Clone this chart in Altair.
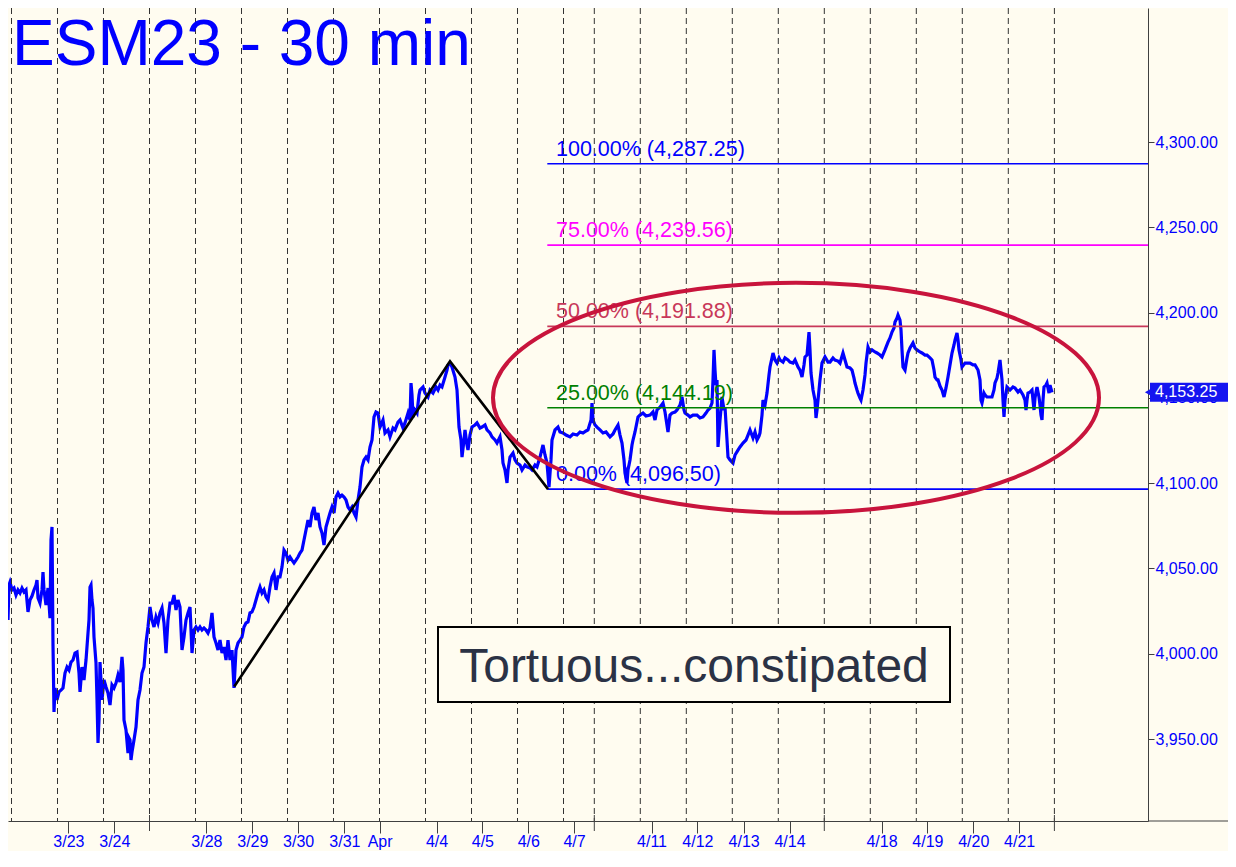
import altair as alt
import pandas as pd

# ---------------- data ----------------
# t = position along the time axis (bar-index units), p = ES price
T_A = [0, 1, 2, 4, 6, 8, 10, 12, 14, 16, 18, 20, 22, 24, 26, 28, 29, 30, 32, 34,
       35, 36, 38, 40, 42, 43, 44, 45, 46, 47, 49, 51, 53, 55, 57, 59, 61, 63, 65, 67,
       69, 71, 72, 74, 76, 78, 80, 81, 82, 83, 84, 85, 86, 88, 89, 90, 91, 92, 94, 96,
       98, 100, 102, 104, 106, 108, 110, 112, 114, 115, 116, 118, 120, 121, 122, 123, 124, 126, 128, 130,
       132, 134, 136, 138, 140, 142, 144, 146, 148, 150,
       152, 154, 156, 158, 160, 162, 164, 166, 168, 170, 172, 174, 176, 178, 180, 182, 184, 186, 188, 190,
       192, 194, 196, 198, 200, 202, 204, 206, 208, 210, 212, 214, 216, 218, 220, 222, 224, 226, 228, 230,
       232, 234, 236, 238, 240, 242, 244, 246, 248, 250, 252, 254, 256, 258, 260, 262, 264, 266, 268, 270,
       272, 274, 276, 278, 280, 282, 284, 286, 288, 290, 292, 294, 296, 298, 300, 302, 304, 306, 308, 310,
       312, 314, 316, 318, 320, 322, 324, 326, 328, 330, 332, 334, 336, 338, 340, 342, 344, 346, 348, 350,
       352, 354, 356, 358, 360, 362, 364, 366, 368, 370]
P_A = [4019.8, 4040.3, 4042.0, 4037.4, 4038.5, 4034.4, 4037.4, 4035.6, 4038.5, 4036.2, 4037.4, 4024.5, 4031.5, 4033.8, 4037.4, 4040.3, 4043.2, 4032.7, 4029.7, 4037.4,
       4047.9, 4037.4, 4028.6, 4038.5, 4020.9, 4066.7, 4074.3, 4005.1, 3965.8, 3979.9, 3972.9, 3977.6, 3978.7, 3979.9, 3988.7, 3992.2, 3990.4, 3995.1, 3996.3, 4000.4,
       4001.0, 3988.7, 3977.6, 3992.2, 3984.6, 3996.3, 4012.1, 4019.8, 4039.1, 4040.3, 4031.5, 4026.8, 4009.8, 3994.6, 3972.9, 3947.7, 3961.1, 3995.1, 3972.9, 3984.6,
       3980.5, 3977.0, 3969.9, 3981.7, 3979.9, 3982.8, 3987.5, 3983.4, 3998.1, 3990.4, 3961.1, 3955.3, 3941.8, 3950.6, 3949.4, 3937.7, 3942.4, 3949.4, 3957.0, 3972.9,
       3978.7, 3988.7, 3992.2, 4006.3, 4015.7, 4027.4, 4019.8, 4015.7, 4021.5, 4018.0,
       4023.9, 4026.8, 4018.0, 4000.4, 4019.8, 4029.7, 4029.7, 4034.4, 4025.6, 4031.5, 4027.4, 4002.2, 4009.8, 4019.8, 4023.9, 4027.4, 4000.4, 4013.9, 4015.7, 4013.9,
       4015.7, 4013.9, 4015.1, 4013.9, 4012.1, 4015.1, 4023.9, 4009.8, 4006.3, 4002.2, 4008.0, 4000.4, 4003.9, 3996.3, 4008.0, 3996.3, 4002.2, 3979.9, 4002.2, 4006.3,
       4008.0, 4009.8, 4015.7, 4018.0, 4018.6, 4023.9, 4024.5, 4027.4, 4031.5, 4035.6, 4039.1, 4035.6, 4037.4, 4033.2, 4031.5, 4039.1, 4045.0, 4047.3, 4037.4, 4045.0,
       4045.0, 4050.8, 4060.8, 4059.0, 4054.9, 4056.7, 4054.9, 4053.2, 4054.9, 4056.7, 4059.0, 4060.8, 4066.7, 4072.5, 4078.4, 4074.3, 4082.5, 4086.0, 4078.4, 4082.5,
       4074.3, 4070.8, 4063.7, 4074.3, 4078.4, 4082.5, 4086.0, 4082.5, 4091.9, 4094.2, 4091.9, 4093.0, 4091.9, 4090.1, 4086.0, 4084.3, 4086.0, 4082.5, 4080.1, 4090.1,
       4097.7, 4109.5, 4113.6, 4115.3, 4113.6, 4121.2, 4125.3, 4138.8, 4141.7, 4141.1]

T_B = [372, 375, 377, 380, 382, 385, 387, 390, 392, 395, 397, 400, 402, 403, 404, 405, 407, 409, 411, 412,
       415, 417, 420, 422, 425, 428, 430, 432, 434, 437, 439, 440, 442, 444, 447, 449, 451, 453, 454, 456,
       457, 459, 460, 462, 464, 467, 469, 472, 474, 477, 479, 482, 484, 487, 489, 492, 494, 495, 497, 499,
       500, 502, 505, 507, 509, 512, 514, 517, 519, 522, 524, 527, 529, 532, 535, 537, 539, 541, 543, 544,
       547, 550, 552, 555, 558, 562, 565, 569, 572, 575, 578, 580, 583, 584, 585, 587, 589, 592, 595, 598,
       602, 605, 607, 610, 612, 614, 616, 617, 619, 620, 622, 624, 625, 627, 630, 632, 635, 638, 642, 645,
       647, 649, 652, 655, 657, 660, 662, 664, 667, 669, 672, 674, 676, 677, 680, 682, 685, 689, 692, 695,
       698, 700, 702, 704, 705, 706, 707, 708, 709, 710, 712, 714, 716, 717, 719, 720, 722, 725, 727, 730,
       732, 735, 738, 740, 742, 745, 747, 749, 751]
P_B = [4132.9, 4137.0, 4129.4, 4131.2, 4127.1, 4132.3, 4131.2, 4135.8, 4137.0, 4132.3, 4135.3, 4141.1, 4137.0, 4158.7, 4151.7, 4138.8, 4142.9, 4141.1, 4151.7, 4154.6,
       4156.4, 4152.8, 4150.5, 4154.6, 4152.8, 4156.4, 4154.6, 4157.5, 4156.4, 4162.2, 4166.3, 4169.3, 4170.4, 4168.1, 4162.2, 4154.6, 4132.9, 4125.3, 4115.3, 4125.3,
       4131.2, 4122.4, 4119.4, 4128.2, 4132.9, 4134.1, 4135.3, 4132.3, 4132.9, 4134.1, 4131.2, 4129.4, 4127.1, 4125.3, 4123.5, 4127.1, 4119.4, 4111.8, 4107.7, 4100.1,
       4107.7, 4115.3, 4117.7, 4113.6, 4111.8, 4110.6, 4107.7, 4110.6, 4109.5, 4108.9, 4107.7, 4110.6, 4109.5, 4115.3, 4122.4, 4116.5, 4111.8, 4097.7, 4113.6, 4125.3,
       4131.2, 4132.9, 4130.0, 4129.4, 4128.2, 4127.1, 4128.8, 4128.2, 4130.0, 4129.4, 4130.6, 4131.2, 4137.0, 4147.0, 4137.0, 4134.1, 4132.9, 4131.2, 4129.4, 4130.0,
       4127.1, 4128.8, 4131.2, 4134.1, 4128.2, 4123.5, 4113.6, 4105.9, 4100.1, 4107.7, 4113.6, 4122.4, 4125.3, 4130.0, 4138.8, 4139.9, 4141.1, 4139.4, 4139.9, 4141.7,
       4137.0, 4142.9, 4144.6, 4147.0, 4141.7, 4130.0, 4139.9, 4141.1, 4141.7, 4142.9, 4145.8, 4150.5, 4142.9, 4141.1, 4139.9, 4138.8, 4139.9, 4139.9, 4138.2, 4138.8,
       4141.1, 4142.9, 4144.0, 4147.0, 4160.5, 4178.1, 4166.3, 4157.5, 4160.5, 4121.2, 4137.0, 4150.5, 4142.9, 4144.6, 4125.3, 4115.3, 4113.6, 4111.8, 4116.5, 4119.4,
       4121.2, 4123.5, 4125.3, 4128.2, 4131.2, 4126.5, 4130.0, 4125.3, 4127.6]

T_C = [752, 754, 755, 757, 759, 761, 762, 764, 765, 767, 769, 771, 772, 775, 777, 780, 782, 785, 787, 790,
       792, 794, 796, 797, 799, 801, 802, 803, 805, 807, 808, 809, 810, 812, 814, 817, 820, 822, 825, 827,
       830, 832, 835, 837, 839, 842, 844, 846, 847, 849, 850, 852, 853, 855, 857, 858, 860, 862, 864, 867,
       869, 872, 874, 877, 880, 882, 884, 886, 887, 889, 890, 892, 893, 894, 895, 897, 899, 900, 902, 905,
       907, 909, 912, 914, 917, 919, 922, 924, 926, 927, 929, 930, 932, 934, 936, 938, 940, 942, 944, 946,
       947, 949, 950, 951, 953, 954, 957, 960, 962, 965, 967, 970, 972, 973, 974, 976, 977, 979, 982, 984,
       986, 987, 989, 990, 992, 993, 994, 995, 996, 997, 999, 1002, 1005, 1007, 1010, 1012, 1015, 1017, 1018, 1019,
       1020, 1022, 1024, 1026, 1027, 1029, 1031, 1032, 1033, 1034, 1035, 1036, 1038, 1039, 1041, 1042, 1044]
P_C = [4129.4, 4139.9, 4148.7, 4145.8, 4152.8, 4163.4, 4168.1, 4173.4, 4176.3, 4172.2, 4170.4, 4173.4, 4172.2, 4171.0, 4173.4, 4172.2, 4171.0, 4170.4, 4172.2, 4168.1,
       4166.3, 4162.2, 4169.3, 4174.0, 4175.1, 4188.6, 4178.1, 4164.6, 4154.6, 4148.7, 4138.2, 4142.9, 4148.7, 4160.5, 4170.4, 4174.0, 4171.0, 4171.0, 4173.4, 4172.2,
       4171.6, 4170.4, 4176.3, 4172.2, 4168.1, 4167.5, 4166.3, 4161.6, 4158.7, 4154.6, 4152.8, 4149.9, 4148.7, 4154.6, 4163.4, 4170.4, 4179.8, 4176.9, 4178.1, 4176.9,
       4176.3, 4175.1, 4174.0, 4178.1, 4182.7, 4185.1, 4188.6, 4191.0, 4194.5, 4196.8, 4198.6, 4195.6, 4189.8, 4178.1, 4168.1, 4166.3, 4173.4, 4176.3, 4179.2, 4182.2,
       4179.2, 4178.1, 4176.9, 4176.3, 4175.1, 4175.1, 4173.4, 4172.2, 4166.3, 4162.2, 4160.5, 4160.5, 4156.9, 4154.6, 4150.5, 4155.8, 4162.2, 4169.3, 4176.3, 4181.0,
       4183.9, 4188.0, 4183.9, 4178.1, 4172.2, 4168.1, 4170.4, 4170.4, 4170.4, 4169.3, 4169.3, 4166.3, 4160.5, 4148.7, 4147.0, 4152.8, 4151.7, 4150.5, 4150.5, 4150.5,
       4154.6, 4158.7, 4161.6, 4164.6, 4172.2, 4166.3, 4160.5, 4148.7, 4138.8, 4148.7, 4156.4, 4154.6, 4156.4, 4155.8, 4153.4, 4154.6, 4151.7, 4148.7, 4142.9, 4148.7,
       4152.8, 4153.4, 4154.6, 4142.9, 4149.9, 4156.4, 4150.5, 4145.8, 4139.9, 4137.0, 4148.7, 4156.4, 4157.5, 4158.7, 4152.8, 4157.5, 4153.25]

# day separators (dashed grid) and dated ticks
GRID_T = [3.5, 49.5, 95.5, 141.5, 187.5, 233.5, 279.5, 325.5, 371.5, 417.5, 463.5, 509.5, 555.5,
          586.3, 632.3, 678.3, 724.3, 770.3, 816.3, 862.3, 908.3, 954.3, 1000.3, 1046.4]
LABEL_T = [60.4, 106.3, 198.4, 244.3, 290.1, 336.4, 371.6, 428.5, 474.4, 520.3, 566.1,
           643.5, 689.4, 735.6, 781.5, 873.5, 919.4, 965.2, 1011.1]
LABEL_TXT = ["3/23", "3/24", "3/28", "3/29", "3/30", "3/31", "Apr", "4/4", "4/5", "4/6", "4/7",
             "4/11", "4/12", "4/13", "4/14", "4/18", "4/19", "4/20", "4/21"]
WEEK_T = [141.5, 586.3, 816.3, 1046.4]

# Fibonacci projection levels
FIB_PCT = ["100.00%", "75.00%", "50.00%", "25.00%", "0.00%"]
FIB_VAL = [4287.25, 4239.56, 4191.88, 4144.19, 4096.50]
FIB_COLOR = ["#0000FF", "#FF00FF", "#C8385A", "#008000", "#0000FF"]

# A-B-C swing
ABC_T = [226.3, 442.0, 540.0]
ABC_P = [3980.75, 4171.50, 4096.50]

Y_TICKS = [3950, 4000, 4050, 4100, 4150, 4200, 4250, 4300]
LAST_PRICE = 4153.25

# ---------------- styling / layout ----------------
BG = "#FFFCF0"
FONT = "Liberation Sans"
AXC = "#404040"
W, H = 1140, 813
X_DOM = [0, 1140]
Y_DOM = [3901.93, 4378.56]

T = T_A + T_B + T_C
P = P_A + P_B + P_C
assert len(T) == len(P)

price = pd.DataFrame({"t": T, "p": P})
one = pd.DataFrame({"k": [0]})
abc = pd.DataFrame({"t": ABC_T, "p": ABC_P})
grid = pd.DataFrame({"t": GRID_T})
weeks = pd.DataFrame({"t": WEEK_T})
fib = pd.DataFrame({
    "p": FIB_VAL,
    "label": [f"{a} ({b:,.2f})" for a, b in zip(FIB_PCT, FIB_VAL)],
    "c": FIB_COLOR,
})

xs = alt.Scale(domain=X_DOM, nice=False, zero=False)
ys = alt.Scale(domain=Y_DOM, nice=False, zero=False)

label_expr = "".join(f"abs(datum.value - {v}) < 0.01 ? '{s}' : " for v, s in zip(LABEL_T, LABEL_TXT)) + "''"

x_axis = alt.Axis(values=LABEL_T, labelExpr=label_expr, tickSize=12, labelFontSize=16,
                  labelColor="#0000FF", labelFont=FONT, domainColor=AXC, tickColor=AXC,
                  grid=False, title=None, labelPadding=0, labelFlush=False,
                  labelOverlap=False, labelBound=False)
y_axis = alt.Axis(orient="right", values=Y_TICKS, format=",.2f", labelFontSize=16,
                  labelColor="#0000FF", labelFont=FONT, tickSize=6, labelPadding=1,
                  domainColor=AXC, tickColor=AXC, grid=False, title=None,
                  labelFlush=False, labelOverlap=False)


def X(f):
    return alt.X(f, type="quantitative", scale=xs, axis=x_axis)


def Y(f):
    return alt.Y(f, type="quantitative", scale=ys, axis=y_axis)


def XD(v):
    return alt.XDatum(v, type="quantitative", scale=xs, axis=x_axis)


def YD(v):
    return alt.YDatum(v, type="quantitative", scale=ys, axis=y_axis)


grid_layer = alt.Chart(grid).mark_rule(color="#333333", strokeWidth=1, strokeDash=[6, 4]).encode(
    x=X("t"))

fib_lines = alt.Chart(fib).mark_rule(strokeWidth=1.6).encode(
    x=XD(539.3), x2=alt.datum(1140), y=Y("p"),
    color=alt.Color("c:N", scale=None))

fib_text = alt.Chart(fib).mark_text(align="left", baseline="alphabetic", dy=-8,
                                     fontSize=21.5, font=FONT).encode(
    x=XD(548), y=Y("p"), text="label:N", color=alt.Color("c:N", scale=None))

price_line = alt.Chart(price).mark_line(color="#0000FF", strokeWidth=3.2).encode(
    x=X("t"), y=Y("p"))

abc_line = alt.Chart(abc).mark_line(color="#000000", strokeWidth=2.6).encode(
    x=X("t"), y=Y("p"))

ELLIPSE = ("M -1 0 C -1 -0.2096 -0.5523 -0.3795 0 -0.3795 "
           "C 0.5523 -0.3795 1 -0.2096 1 0 "
           "C 1 0.2096 0.5523 0.3795 0 0.3795 "
           "C -0.5523 0.3795 -1 0.2096 -1 0 Z")
ellipse = alt.Chart(one).mark_point(shape=ELLIPSE, size=606 * 606, filled=False,
                                    strokeWidth=4, color="#C8143C", opacity=1).encode(
    x=XD(788), y=YD(4150.0))

box = alt.Chart(one).mark_rect(fill=BG, stroke="#000000", strokeWidth=2).encode(
    x=XD(430), x2=alt.datum(942), y=YD(4015.7), y2=alt.datum(3971.7))
box_text = alt.Chart(one).mark_text(text="Tortuous...constipated", fontSize=48, font=FONT,
                                    color="#2B3245", align="center", baseline="alphabetic").encode(
    x=XD(686), y=YD(3983.4))

title = alt.Chart(one).mark_text(text="ESM23 - 30 min", fontSize=64, font=FONT, color="#0000FF",
                                 align="left", baseline="alphabetic").encode(
    x=alt.value(4), y=alt.value(57))

week_ticks = alt.Chart(weeks).mark_rule(color=AXC, strokeWidth=1).encode(
    x=X("t"), y=alt.value(H - 6), y2=alt.value(H + 10))

axis_ext = alt.Chart(one).mark_rule(color=AXC, strokeWidth=1).encode(
    x=alt.value(W), x2=alt.value(W + 80), y=alt.value(H))

tag = alt.Chart(one).mark_rect(color="#1515F0").encode(
    x=alt.value(W + 2), x2=alt.value(W + 80),
    y=YD(LAST_PRICE + 5.6), y2=alt.datum(LAST_PRICE - 5.6))
tag_tip = alt.Chart(one).mark_point(shape="triangle-left", filled=True, size=90, color="#1515F0",
                                    opacity=1).encode(
    x=alt.value(W + 1), y=YD(LAST_PRICE))
tag_text = alt.Chart(one).mark_text(text=f"{LAST_PRICE:,.2f}", fontSize=16, font=FONT,
                                    color="#FFFFFF", align="left", baseline="middle").encode(
    x=alt.value(W + 7), y=YD(LAST_PRICE))

chart = alt.layer(
    price_line, grid_layer, fib_lines, fib_text, abc_line, ellipse, box, box_text, title,
    week_ticks, axis_ext, tag, tag_tip, tag_text
).properties(
    width=W, height=H,
    padding={"left": 0, "top": 0, "right": 80, "bottom": 30},
    autosize=alt.AutoSizeParams(type="none"),
    background=BG,
).configure_view(stroke=None)

chart.save("out.html", embed_options={"renderer": "svg", "actions": False})
